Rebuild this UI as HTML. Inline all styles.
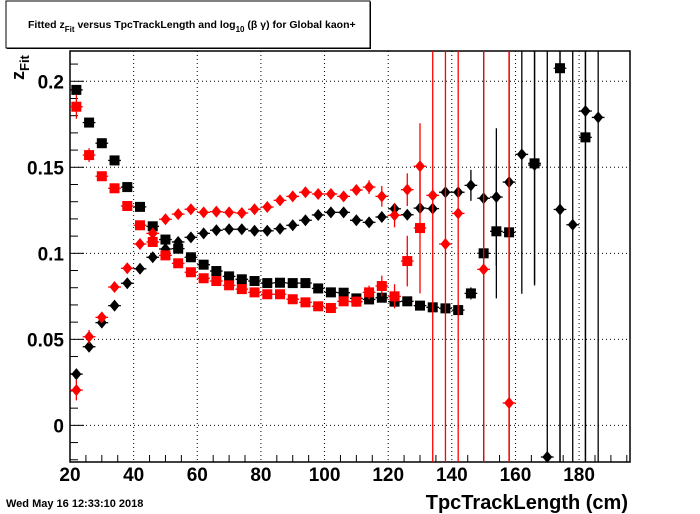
<!DOCTYPE html>
<html><head><meta charset="utf-8"><style>
html,body{margin:0;padding:0;background:#fff;}
svg{display:block;font-family:"Liberation Sans",sans-serif;}
</style></head><body>
<svg id="chart" width="700" height="514" viewBox="0 0 700 514">
<rect x="0" y="0" width="700" height="514" fill="#fff"/>
<g>
<rect x="7" y="2" width="364" height="47" fill="#000"/>
<rect x="6" y="1" width="364" height="47" fill="#fff" stroke="#000" stroke-width="1"/>
<text x="28" y="28" font-size="10.5" font-weight="bold">Fitted  z<tspan font-size="8" dy="4">Fit</tspan><tspan dy="-4">  versus TpcTrackLength and log</tspan><tspan font-size="8" dy="4">10</tspan><tspan dy="-4"> (β γ) for Global kaon+</tspan></text>
</g>
<g id="grid"></g>
<g id="axes"></g>
<g id="series"></g>
<text x="24" y="80" font-size="18" font-weight="bold" transform="rotate(-90 24 80)">z<tspan font-size="13" dy="5">Fit</tspan></text>
<text x="628" y="509" font-size="20" font-weight="bold" text-anchor="end">TpcTrackLength (cm)</text>
<text x="6" y="507" font-size="11" font-weight="bold">Wed May 16 12:33:10 2018</text>
</svg>
<script>
const bins = [22,26,30,34,38,42,46,50,54,58,62,66,70,74,78,82,86,90,94,98,102,106,110,114,118,122,126,130,134,138,142,146,150,154,158,162,166,170,174,178,182,186];
// null = no point
const blackSquare = [0.195,0.176,0.164,0.154,0.1385,0.127,0.1157,0.108,0.1027,0.0977,0.0934,0.0897,0.0866,0.0849,0.0839,0.0827,0.0829,0.0827,0.0827,0.0796,0.0773,0.0771,0.0738,0.0732,0.0742,0.0719,0.0721,0.0696,0.0686,0.068,0.067,0.0767,0.1,0.1128,0.1122,null,0.1523,null,0.2076,null,0.1674,null];
const blackSquareErr = [0.002,0.001,0.001,0.001,0.001,0.001,0.001,0.001,0.001,0.001,0.001,0.001,0.001,0.001,0.001,0.001,0.001,0.001,0.001,0.001,0.001,0.001,0.001,0.001,0.001,0.001,0.001,0.002,0.002,0.002,0.002,0.0035,0.002,0.039,0.002,null,0.07,null,1,null,1,null];
const blackDiamond = [0.0298,0.0457,0.0597,0.0696,0.0826,0.091,0.0977,0.1025,0.1066,0.1093,0.1116,0.1134,0.114,0.114,0.1131,0.1131,0.1143,0.1163,0.1192,0.1223,0.1238,0.1238,0.1192,0.118,0.1211,0.1259,0.1224,0.1263,0.126,0.1355,0.1355,0.1395,0.132,0.1327,0.1414,0.1575,0.1513,-0.0184,0.1255,0.1166,0.1827,0.179];
const blackDiamondErr = [0.001,0.001,0.001,0.001,0.001,0.001,0.001,0.001,0.001,0.001,0.001,0.001,0.001,0.001,0.001,0.001,0.001,0.001,0.001,0.001,0.001,0.001,0.001,0.001,0.001,0.002,0.002,0.002,0.002,0.002,0.002,0.009,1,0.04,1,0.081,0.07,1,1,1,1,1];
const redSquare = [0.1852,0.1571,0.1448,0.1378,0.1275,0.1163,0.1066,0.0988,0.0942,0.089,0.0855,0.0839,0.0814,0.0792,0.0773,0.0762,0.0762,0.0733,0.0715,0.0692,0.0682,0.0721,0.0719,0.0773,0.081,0.075,0.0955,0.1147,null,null,null,null,null,null,null,null,null,null,null,null,null,null];
const redSquareErr = [0.007,0.004,0.002,0.002,0.002,0.002,0.002,0.002,0.002,0.002,0.002,0.002,0.002,0.002,0.002,0.002,0.002,0.002,0.002,0.002,0.002,0.002,0.003,0.004,0.006,0.007,0.0147,0.038,null,null,null,null,null,null,null,null,null,null,null,null,null,null];
const redDiamond = [0.0205,0.0515,0.0628,0.0804,0.0913,0.1054,0.1116,0.1198,0.1228,0.1256,0.1238,0.1242,0.1238,0.1234,0.1256,0.1269,0.1308,0.1331,0.1355,0.1345,0.1345,0.1331,0.1368,0.1385,0.1331,0.1221,0.137,0.1506,0.1337,0.1054,0.1232,null,0.0907,null,0.013,null,null,null,null,null,null,null];
const redDiamondErr = [0.006,0.004,0.002,0.002,0.002,0.002,0.003,0.002,0.002,0.002,0.002,0.002,0.002,0.002,0.002,0.002,0.002,0.002,0.002,0.002,0.002,0.002,0.002,0.004,0.006,0.007,0.0095,0.025,1,1,1,null,1,null,1,null,null,null,null,null,null,null];
const xTicks = [20,40,60,80,100,120,140,160,180];
const yTicks = [0,0.05,0.1,0.15,0.2];
const yTickLabels = ["0","0.05","0.1","0.15","0.2"];

const L=70,R=630,T=51,B=462, XMIN=20, XMAX=196, YMIN=-0.0213, YMAX=0.2176;
const sx=v=>L+(v-XMIN)/(XMAX-XMIN)*(R-L);
const sy=v=>B-(v-YMIN)/(YMAX-YMIN)*(B-T);
const NS='http://www.w3.org/2000/svg';
function mk(tag,attrs,parent){const e=document.createElementNS(NS,tag);for(const k in attrs)e.setAttribute(k,attrs[k]);parent.appendChild(e);return e;}
const grid=document.getElementById('grid'), axes=document.getElementById('axes'), ser=document.getElementById('series');
xTicks.forEach(t=>{ if(t>XMIN){
 const g=mk('line',{x1:sx(t),x2:sx(t),y1:T,y2:B,stroke:'#000','stroke-width':1,'stroke-dasharray':'1,3'},grid);
 
 }
 const lb=mk('text',{x:sx(t),y:481,'font-size':19,'font-weight':'bold','text-anchor':'middle'},axes);
 lb.textContent=String(t);
 
 
});
yTicks.forEach((t,i)=>{
 const g=mk('line',{x1:L,x2:R,y1:sy(t),y2:sy(t),stroke:'#000','stroke-width':1,'stroke-dasharray':'1,3'},grid);
 
 
 const lb=mk('text',{x:64,y:sy(t)+7,'font-size':19,'font-weight':'bold','text-anchor':'end'},axes);
 lb.textContent=yTickLabels[i];
 
 
});
for(let v=25;v<XMAX;v+=5){ if(v%20===0) continue;
 const tk=mk('line',{x1:sx(v),x2:sx(v),y1:B,y2:B-7,stroke:'#000','stroke-width':1},axes);
 
 }
for(let k=-2;k<=21;k++){const v=k*0.01; if(v<YMIN||v>YMAX) continue;
 const len=(k%5===0)?14:8;
 const tk=mk('line',{x1:L,x2:L+len,y1:sy(v),y2:sy(v),stroke:'#000','stroke-width':1},axes);
 
 }
const fr=mk('rect',{x:L,y:T,width:R-L,height:B-T,fill:'none',stroke:'#000','stroke-width':1.5},axes);



function drawSeries(vals,errs,color,shape,name){
 const g=mk('g',{},ser);
 
 
 vals.forEach((v,i)=>{ if(v===null) return;
  const x=sx(bins[i]), y=sy(v), e=errs[i]||0;
  const y1=Math.max(T,sy(v+e)), y2=Math.min(B,sy(v-e));
  mk('line',{x1:x,x2:x,y1:y1,y2:y2,stroke:color,'stroke-width':1.3},g);
  mk('line',{x1:sx(bins[i]-2),x2:sx(bins[i]+2),y1:y,y2:y,stroke:color,'stroke-width':1.3},g);
  let m;
  if(shape==='square') m=mk('rect',{x:x-5,y:y-5,width:10,height:10,fill:color},g);
  else m=mk('polygon',{points:`${x},${y-6} ${x+5},${y} ${x},${y+6} ${x-5},${y}`,fill:color},g);
  
  
 });
}
drawSeries(blackSquare,blackSquareErr,'#000','square','black-square-series');
drawSeries(blackDiamond,blackDiamondErr,'#000','diamond','black-diamond-series');
drawSeries(redSquare,redSquareErr,'#f00','square','red-square-series');
drawSeries(redDiamond,redDiamondErr,'#f00','diamond','red-diamond-series');
</script>
</body></html>
